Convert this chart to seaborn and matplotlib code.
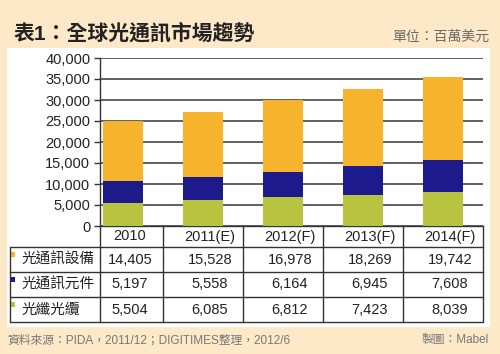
import pandas as pd
import matplotlib
matplotlib.use("Agg")
import matplotlib.pyplot as plt
import matplotlib.transforms as mtransforms
from matplotlib.lines import Line2D
from matplotlib.patches import Rectangle
from matplotlib.ticker import StrMethodFormatter
import seaborn as sns

# ------------------ DATA ------------------
years = ["2010", "2011(E)", "2012(F)", "2013(F)", "2014(F)"]
equipment = [14405, 15528, 16978, 18269, 19742]   # 光通訊設備
components = [5197, 5558, 6164, 6945, 7608]       # 光通訊元件
fiber = [5504, 6085, 6812, 7423, 8039]            # 光纖光纜
series_names = ["光通訊設備", "光通訊元件", "光纖光纜"]
yticks = [0, 5000, 10000, 15000, 20000, 25000, 30000, 35000, 40000]

title = "表1：全球光通訊市場趨勢"
unit = "單位：百萬美元"
source = "資料來源：PIDA，2011/12；DIGITIMES整理，2012/6"
credit = "製圖：Mabel"

ORANGE = "#F8B32D"
NAVY = "#1D1B8B"
OLIVE = "#B8C33F"
BG = "#FDE9C8"
LINE = "#333333"

df = pd.DataFrame({"year": years, "equip": equipment, "comp": components, "fiber": fiber})
df["mid"] = df["fiber"] + df["comp"]
df["top"] = df["mid"] + df["equip"]

# ------------------ FIGURE ------------------
sns.set_style("white")
plt.rcParams["font.family"] = ["Liberation Sans", "Noto Sans CJK TC"]

W, H = 500, 354
fig = plt.figure(figsize=(5, 3.54), dpi=100, facecolor=BG)


def fx(px):
    return px / W


def fy(py):
    return 1 - py / H


# white panel
fig.add_artist(Rectangle((fx(7), fy(327)), fx(490) - fx(7), fy(48) - fy(327),
                         transform=fig.transFigure, facecolor="white",
                         edgecolor="none", zorder=0))

ax = fig.add_axes([fx(100), fy(226), fx(483) - fx(100), fy(58) - fy(226)])
ax.set_facecolor("white")

# stacked bars drawn as overlapping cumulative totals
for col, color in [("top", ORANGE), ("mid", NAVY), ("fiber", OLIVE)]:
    sns.barplot(data=df, x="year", y=col, color=color, saturation=1,
                width=0.51, errorbar=None, linewidth=0, ax=ax, zorder=3)

ax.set_xlim(-0.2875, 4.5)
ax.set_ylim(0, 40000)
ax.set_yticks(yticks)
ax.yaxis.set_major_formatter(StrMethodFormatter("{x:,.0f}"))
ax.tick_params(axis="y", left=True, length=4, width=1, color=LINE,
               labelsize=10.5, labelcolor="#222222", pad=3)
ax.tick_params(axis="x", bottom=False, labelbottom=False)
ax.set_xlabel("")
ax.set_ylabel("")
ax.grid(axis="y", color="#555555", lw=1.3)
ax.set_axisbelow(True)
for s in ["top", "right"]:
    ax.spines[s].set_visible(False)
for s in ["left", "bottom"]:
    ax.spines[s].set_color(LINE)
    ax.spines[s].set_linewidth(1)

# ------------------ TABLE ------------------
blend = mtransforms.blended_transform_factory(ax.transData, fig.transFigure)
shift = blend + mtransforms.ScaledTranslation(0.07, 0, fig.dpi_scale_trans)

for py in [247, 272, 297, 322]:
    fig.add_artist(Line2D([fx(10), fx(483)], [fy(py), fy(py)],
                          transform=fig.transFigure, color=LINE, lw=1))
fig.add_artist(Line2D([fx(10), fx(10)], [fy(247), fy(322)],
                      transform=fig.transFigure, color=LINE, lw=1))
edges = [ax.get_xlim()[0]] + [i + 0.5 for i in range(len(years))]
for xe in edges:
    ax.add_line(Line2D([xe, xe], [fy(226), fy(322)], transform=blend,
                       color=LINE, lw=1, clip_on=False))

for i, yr in enumerate(years):
    ax.text(i, fy(236.5), yr, transform=shift, ha="center", va="center",
            fontsize=10.5, color="#222222")

row_y = [259.5, 284.5, 309.5]
for name, vals, color, py in zip(series_names, [equipment, components, fiber],
                                 [ORANGE, NAVY, OLIVE], row_y):
    fig.add_artist(Rectangle((fx(11), fy(py - 2.5)), fx(4), fy(0) - fy(5),
                             transform=fig.transFigure, facecolor=color,
                             edgecolor="none"))
    fig.text(fx(21), fy(py), name, ha="left", va="center", fontsize=10.5,
             color="#222222")
    for i, v in enumerate(vals):
        ax.text(i, fy(py), f"{v:,}", transform=shift, ha="center",
                va="center", fontsize=10.5, color="#222222")

# ------------------ TEXTS ------------------
fig.text(fx(14), fy(33.5), title, ha="left", va="center", fontsize=15,
         fontweight="bold", color="#222222")
fig.text(fx(489), fy(36.5), unit, ha="right", va="center", fontsize=10,
         color="#6b6b6b")
fig.text(fx(7), fy(340.5), source, ha="left", va="center", fontsize=8.5,
         color="#777777")
fig.text(fx(489), fy(340.5), credit, ha="right", va="center", fontsize=8.5,
         color="#777777")

fig.savefig("out.png", dpi=100)
